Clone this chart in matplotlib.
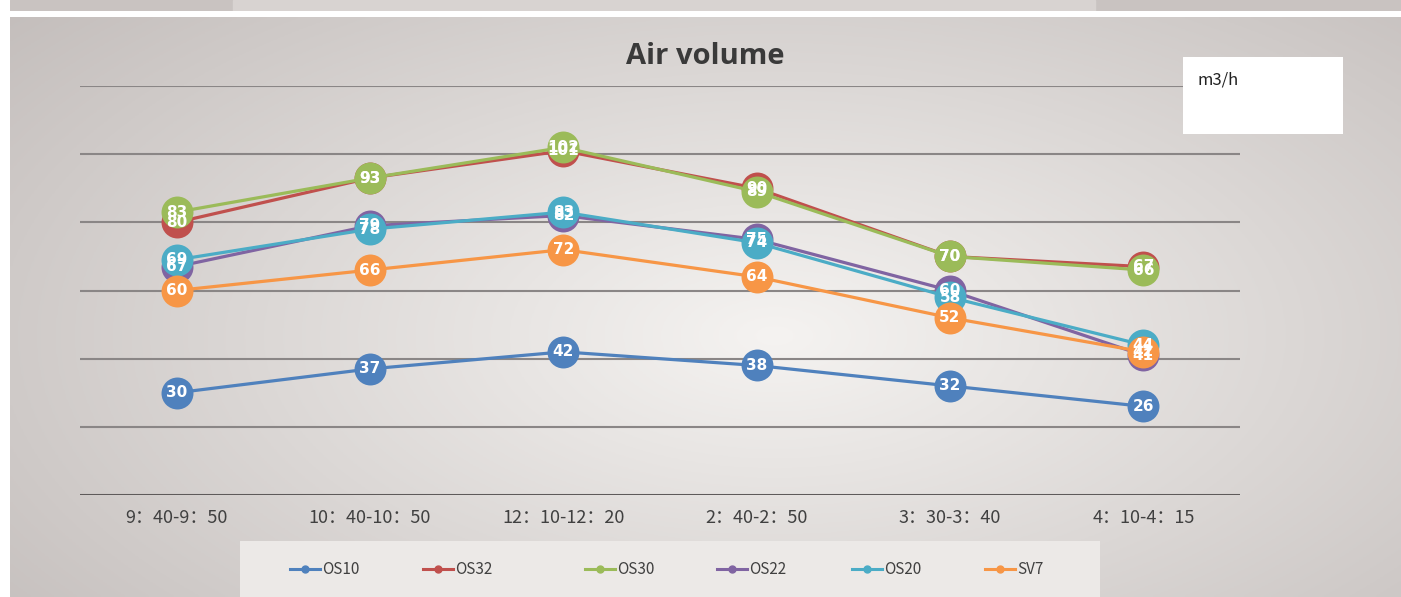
import numpy as np
import matplotlib.pyplot as plt
from matplotlib.patches import Rectangle

# 数据
slots = ['9：40-9：50', '10：40-10：50', '12：10-12：20', '2：40-2：50', '3：30-3：40', '4：10-4：15']
names = ['OS10', 'OS32', 'OS30', 'OS22', 'OS20', 'SV7']
os10 = [30, 37, 42, 38, 32, 26]
os32 = [80, 93, 101, 90, 70, 67]
os30 = [83, 93, 102, 89, 70, 66]
os22 = [67, 79, 82, 75, 60, 41]
os20 = [69, 78, 83, 74, 58, 44]
sv7 = [60, 66, 72, 64, 52, 42]
colors = ['#4F81BD', '#C0504D', '#9BBB59', '#8064A2', '#4BACC6', '#F79646']

plt.rcParams['font.family'] = ['Noto Sans CJK SC', 'DejaVu Sans']

W, H = 1401, 597
fig = plt.figure(figsize=(W / 100, H / 100), dpi=100)
fig.patch.set_facecolor('white')

# 背景渐变
bg = fig.add_axes([10 / W, 0, 1 - 10 / W, 1 - 17 / H])
bg.set_axis_off()
yy, xx = np.mgrid[0:1:200j, 0:1:400j]
r = np.sqrt(((xx - 0.55) / 0.75) ** 2 + ((yy - 0.55) / 0.9) ** 2)
r = np.clip(r, 0, 1)
c_in = np.array([245, 243, 241]) / 255
c_out = np.array([194, 188, 186]) / 255
img = c_in[None, None, :] * (1 - r[..., None]) + c_out[None, None, :] * r[..., None]
bg.imshow(img, aspect='auto', extent=[0, 1, 0, 1])
bg.set_xlim(0, 1)
bg.set_ylim(0, 1)

# 顶部的灰条
top = fig.add_axes([10 / W, 1 - 11 / H, 1 - 10 / W, 11 / H])
top.set_axis_off()
top.add_patch(Rectangle((0, 0), 1, 1, color='#c9c3c1'))
top.add_patch(Rectangle((0.16, 0), 0.62, 1, color='#d8d3d1'))

ax = fig.add_axes([80 / W, 102 / H, 1160 / W, 409 / H])
ax.patch.set_alpha(0)
x = np.arange(len(slots))
series = [os10, os32, os30, os22, os20, sv7]

for i, (name, vals) in enumerate(zip(names, series)):
    ax.plot(x, vals, color=colors[i], lw=2.3, marker='o', markersize=23,
            markeredgewidth=0, label=name, zorder=3 + i)
for i, vals in enumerate(series):
    for xi, v in zip(x, vals):
        ax.text(xi, v, str(v), color='white', fontsize=11, fontweight='bold',
                ha='center', va='center', zorder=20 + i, family=['DejaVu Sans'])

ax.set_xlim(-0.5, 5.5)
ax.set_ylim(0, 120)
for g in range(20, 121, 20):
    ax.axhline(g, color='#8a8686', lw=1.5, zorder=1)
ax.axhline(0, color='#5e5a5a', lw=2.2, zorder=1)
ax.set_yticks([])
ax.set_xticks(x)
ax.set_xticklabels(slots, fontsize=13, color='#404040')
ax.tick_params(axis='x', length=0, pad=10)
for s in ax.spines.values():
    s.set_visible(False)

fig.text(705 / W, 1 - 57 / H, 'Air volume', ha='center', va='center',
         fontsize=21, fontweight='bold', color='#3a3a3a', family=['Open Sans', 'DejaVu Sans'])

# 单位框
unit = fig.add_axes([1183 / W, 1 - 134 / H, 160 / W, 77 / H])
unit.set_axis_off()
unit.add_patch(Rectangle((0, 0), 1, 1, color='white'))
unit.text(0.09, 0.7, 'm3/h', fontsize=12, color='#222222', va='center')

# 图例
lg = fig.add_axes([240 / W, 0, 860 / W, 56 / H])
lg.set_axis_off()
lg.add_patch(Rectangle((0, 0), 1, 1, color='#ece9e7'))
leg_x = [50, 183, 345, 477, 612, 745]
for i, name in enumerate(names):
    x0 = leg_x[i] / 860
    lg.plot([x0, x0 + 30 / 860], [0.5, 0.5], color=colors[i], lw=2.2)
    lg.plot([x0 + 15 / 860], [0.5], color=colors[i], marker='o', markersize=5)
    lg.text(x0 + 32 / 860, 0.5, name, fontsize=11, color='#404040', va='center')
lg.set_xlim(0, 1)
lg.set_ylim(0, 1)

fig.savefig('out.png', dpi=100)
